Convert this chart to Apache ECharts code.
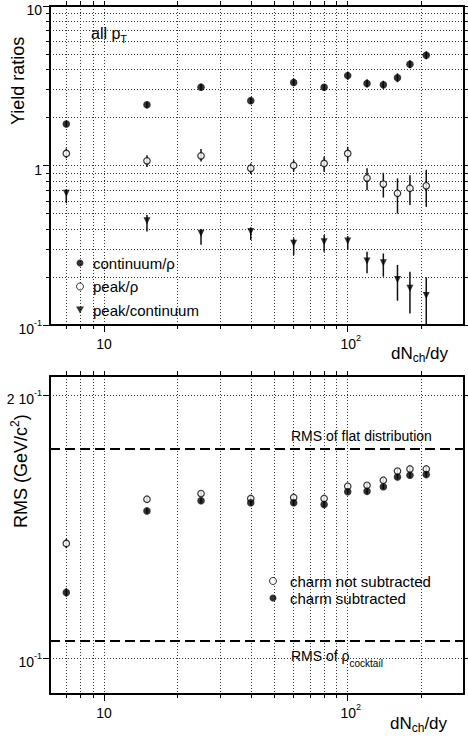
<!DOCTYPE html>
<html><head><meta charset="utf-8">
<script src="https://cdn.jsdelivr.net/npm/echarts@6/dist/echarts.min.js"></script>
<style>html,body{margin:0;padding:0;background:#fff}#c{width:468px;height:736px}</style>
</head><body><div id="c"></div>
<script>
// ---- data ----
const dNchdy = [7, 15, 25, 40, 60, 80, 100, 120, 140, 160, 180, 210];
const continuumRho     = [1.82, 2.40, 3.10, 2.55, 3.32, 3.09, 3.66, 3.27, 3.21, 3.55, 4.31, 4.91];
const continuumRhoLow  = [1.74, 2.30, 2.97, 2.44, 3.18, 2.96, 3.45, 3.08, 3.03, 3.33, 4.07, 4.63];
const continuumRhoHigh = [1.90, 2.51, 3.24, 2.66, 3.47, 3.23, 3.88, 3.47, 3.40, 3.78, 4.57, 5.20];
const peakRho      = [1.19, 1.07, 1.15, 0.96, 1.00, 1.03, 1.19, 0.835, 0.765, 0.67, 0.72, 0.746];
const peakRhoLow   = [1.11, 0.98, 1.06, 0.885, 0.914, 0.914, 1.06, 0.70, 0.63, 0.50, 0.565, 0.55];
const peakRhoHigh  = [1.28, 1.16, 1.27, 1.03, 1.08, 1.135, 1.31, 0.96, 0.90, 0.83, 0.87, 0.94];
const peakCont     = [0.67, 0.45, 0.376, 0.385, 0.325, 0.333, 0.336, 0.252, 0.246, 0.193, 0.170, 0.153];
const peakContLow  = [0.58, 0.385, 0.318, 0.341, 0.275, 0.288, 0.295, 0.211, 0.201, 0.142, 0.118, 0.10];
const peakContHigh = [0.71, 0.49, 0.40, 0.41, 0.35, 0.366, 0.361, 0.288, 0.281, 0.238, 0.216, 0.199];
const rmsNotSub     = [0.1353, 0.1520, 0.1543, 0.1523, 0.1527, 0.1523, 0.1573, 0.1577, 0.1598, 0.1637, 0.1646, 0.1646];
const rmsNotSubLow  = [0.1336, 0.1510, 0.1533, 0.1513, 0.1517, 0.1513, 0.1563, 0.1567, 0.1588, 0.1627, 0.1636, 0.1636];
const rmsNotSubHigh = [0.1370, 0.1530, 0.1553, 0.1533, 0.1537, 0.1533, 0.1583, 0.1587, 0.1608, 0.1647, 0.1656, 0.1656];
const rmsSub     = [0.1189, 0.1474, 0.1514, 0.1506, 0.1506, 0.1499, 0.1550, 0.1552, 0.1571, 0.1612, 0.1619, 0.1622];
const rmsSubLow  = [0.1176, 0.1464, 0.1504, 0.1496, 0.1496, 0.1489, 0.1540, 0.1542, 0.1561, 0.1602, 0.1609, 0.1612];
const rmsSubHigh = [0.1203, 0.1484, 0.1524, 0.1516, 0.1516, 0.1509, 0.1560, 0.1562, 0.1581, 0.1622, 0.1629, 0.1632];
const flatRMS = 0.1735;
const cocktailRMS = 0.1047;

// ---- ticks ----
const xMajorTicks = [10, 100];
const xMajorLabels = ['{b|10}', '{bx|10}{s|2}'];
const xMinorTicks = [7, 8, 9, 20, 30, 40, 50, 60, 70, 80, 90, 200];
const yTopMajorTicks = [0.1, 1, 10];
const yTopMajorLabels = ['{b|10}{s|-1}', '{b|1}', '{b|10}'];
const yTopMinorTicks = [0.2, 0.3, 0.4, 0.5, 0.6, 0.7, 0.8, 0.9, 2, 3, 4, 5, 6, 7, 8, 9];
const yBotTicks = [0.1, 0.2];
const yBotLabels = ['{b|10}{s|-1}', '{b|2 10}{s|-1}'];

const FONT = '"Liberation Sans", Arial, Helvetica, sans-serif';
const rich = {
  b:  {fontSize: 14, fontFamily: FONT, color: '#000', verticalAlign: 'top', lineHeight: 14, padding: [4, 0, 4, 0]},
  bx: {fontSize: 14, fontFamily: FONT, color: '#000', verticalAlign: 'top', lineHeight: 14, padding: [4, 0, 4, 6]},
  s:  {fontSize: 9, fontFamily: FONT, color: '#000', verticalAlign: 'top', lineHeight: 10}
};
function labelFrom(ticks, labels) {
  return function (v) {
    for (let i = 0; i < ticks.length; i++) if (Math.abs(v - ticks[i]) / ticks[i] < 1e-6) return labels[i];
    return '';
  };
}
const gridLine = {color: '#333', width: 1, type: [1, 2]};

function xAx(gridIndex, position, ticks, tickLen, labels, line, split) {
  return {
    type: 'log', logBase: 10, min: 6, max: 300, gridIndex, position,
    axisLine: {show: line, onZero: false, lineStyle: {color: '#000', width: 2}},
    axisTick: {show: true, inside: false, length: tickLen, customValues: ticks, lineStyle: {color: '#000', width: 1}},
    axisLabel: labels ? {show: true, customValues: ticks, margin: 8, formatter: labelFrom(ticks, labels), rich} : {show: false},
    splitLine: {show: split, lineStyle: gridLine},
    minorTick: {show: false}, minorSplitLine: {show: false}
  };
}
function yAx(gridIndex, position, min, max, ticks, tickLen, labels, line, split) {
  return {
    type: 'log', logBase: 10, min, max, gridIndex, position,
    axisLine: {show: line, onZero: false, lineStyle: {color: '#000', width: 2}},
    axisTick: {show: true, inside: false, length: tickLen, customValues: ticks, lineStyle: {color: '#000', width: 1}},
    axisLabel: labels ? {show: true, customValues: ticks, margin: 8, formatter: labelFrom(ticks, labels), rich} : {show: false},
    splitLine: {show: split, lineStyle: gridLine},
    minorTick: {show: false}, minorSplitLine: {show: false}
  };
}
const allX = xMajorTicks.concat(xMinorTicks);
const allYTop = yTopMajorTicks.concat(yTopMinorTicks);

function pts(vals) { return dNchdy.map((x, i) => [x, vals[i]]); }
function errs(lo, hi) { return dNchdy.map((x, i) => [x, lo[i], hi[i]]); }
function errSeries(name, xi, yi, lo, hi) {
  return {
    type: 'custom', name, xAxisIndex: xi, yAxisIndex: yi, z: 1, clip: true, silent: true,
    data: errs(lo, hi),
    encode: {x: 0, y: [1, 2]},
    renderItem: function (params, api) {
      const p1 = api.coord([api.value(0), api.value(1)]);
      const p2 = api.coord([api.value(0), api.value(2)]);
      return {type: 'line', shape: {x1: p1[0], y1: p1[1], x2: p2[0], y2: p2[1]}, style: {stroke: '#111', lineWidth: 1.5}};
    }
  };
}
const downTri = 'path://M0,0 L10,0 L5,9 Z';

const option = {
  animation: false,
  backgroundColor: '#fff',
  grid: [
    {left: 50, top: 6, width: 414, height: 319, outerBoundsMode: 'none'},
    {left: 50, top: 376, width: 414, height: 318, outerBoundsMode: 'none'}
  ],
  xAxis: [
    xAx(0, 'bottom', xMajorTicks, 7, xMajorLabels, true, true),
    xAx(0, 'bottom', xMinorTicks, 4, null, false, true),
    xAx(0, 'top', allX, 5, null, true, false),
    xAx(1, 'bottom', xMajorTicks, 7, xMajorLabels, true, true),
    xAx(1, 'bottom', xMinorTicks, 4, null, false, true),
    xAx(1, 'top', allX, 5, null, true, false)
  ],
  yAxis: [
    yAx(0, 'left', 0.1, 10, yTopMajorTicks, 7, yTopMajorLabels, true, true),
    yAx(0, 'left', 0.1, 10, yTopMinorTicks, 4, null, false, true),
    yAx(0, 'right', 0.1, 10, allYTop, 4, null, true, false),
    yAx(1, 'left', 0.0910, 0.2103, yBotTicks, 7, yBotLabels, true, true),
    yAx(1, 'right', 0.0910, 0.2103, yBotTicks, 5, null, true, false)
  ],
  legend: [
    {
      data: ['continuum/ρ', 'peak/ρ', 'peak/continuum'], orient: 'vertical',
      left: 71, top: 250.5, itemWidth: 16, itemHeight: 7, itemGap: 8.5, selectedMode: false,
      itemStyle: {borderWidth: 1},
      textStyle: {fontSize: 15, fontFamily: FONT, color: '#000'}
    },
    {
      data: ['charm not subtracted', 'charm subtracted'], orient: 'vertical',
      left: 264, top: 568.5, itemWidth: 20, itemHeight: 7, itemGap: 2, selectedMode: false,
      itemStyle: {borderWidth: 1},
      textStyle: {fontSize: 15, fontFamily: FONT, color: '#000', padding: [0, 0, 0, 2]}
    }
  ],
  series: [
    errSeries('e1', 0, 0, continuumRhoLow, continuumRhoHigh),
    errSeries('e2', 0, 0, peakRhoLow, peakRhoHigh),
    errSeries('e3', 0, 0, peakContLow, peakContHigh),
    errSeries('e4', 3, 3, rmsNotSubLow, rmsNotSubHigh),
    errSeries('e5', 3, 3, rmsSubLow, rmsSubHigh),
    {type: 'scatter', name: 'continuum/ρ', xAxisIndex: 0, yAxisIndex: 0, z: 3, symbol: 'circle', symbolSize: 7.5,
     itemStyle: {color: '#000'}, data: pts(continuumRho)},
    {type: 'scatter', name: 'peak/ρ', xAxisIndex: 0, yAxisIndex: 0, z: 3, symbol: 'circle', symbolSize: 6.5,
     itemStyle: {color: '#fff', borderColor: '#000', borderWidth: 1.2}, data: pts(peakRho)},
    {type: 'scatter', name: 'peak/continuum', xAxisIndex: 0, yAxisIndex: 0, z: 3, symbol: downTri, symbolSize: [7, 7],
     itemStyle: {color: '#000'}, data: pts(peakCont)},
    {type: 'scatter', name: 'charm not subtracted', xAxisIndex: 3, yAxisIndex: 3, z: 3, symbol: 'circle', symbolSize: 6.5,
     itemStyle: {color: '#fff', borderColor: '#000', borderWidth: 1.2}, data: pts(rmsNotSub),
     markLine: {silent: true, symbol: 'none', precision: 6, label: {show: false},
       lineStyle: {color: '#000', width: 1.8, type: [10, 5]},
       data: [{yAxis: flatRMS}, {yAxis: cocktailRMS}]}},
    {type: 'scatter', name: 'charm subtracted', xAxisIndex: 3, yAxisIndex: 3, z: 4, symbol: 'circle', symbolSize: 7.5,
     itemStyle: {color: '#000'}, data: pts(rmsSub)}
  ],
  graphic: [
    {type: 'text', x: 17.7, y: 125, rotation: Math.PI / 2,
     style: {text: 'Yield ratios', fontSize: 18, fontFamily: FONT, fill: '#000', align: 'left', verticalAlign: 'middle'}},
    {type: 'text', x: 17.7, y: 528, rotation: Math.PI / 2,
     style: {text: '{m|RMS (GeV/c}{s|2}{m|)}', fill: '#000', align: 'left', verticalAlign: 'middle',
       rich: {m: {fontSize: 18, fontFamily: FONT, fill: '#000', verticalAlign: 'top', lineHeight: 18, padding: [3, 0, 0, 0]},
              s: {fontSize: 12, fontFamily: FONT, fill: '#000', verticalAlign: 'top', lineHeight: 12}}}},
    {type: 'text', x: 91, y: 25,
     style: {text: '{m|all p}{t|T}', align: 'left', verticalAlign: 'top',
       rich: {m: {fontSize: 16, fontFamily: FONT, fill: '#000', verticalAlign: 'top', lineHeight: 16},
              t: {fontSize: 11, fontFamily: FONT, fill: '#000', verticalAlign: 'top', lineHeight: 11, padding: [8, 0, 0, 0]}}}},
    {type: 'text', x: 391, y: 344.5,
     style: {text: '{m|dN}{t|ch}{m|/dy}', align: 'left', verticalAlign: 'top',
       rich: {m: {fontSize: 17, fontFamily: FONT, fill: '#000', verticalAlign: 'top', lineHeight: 17},
              t: {fontSize: 12, fontFamily: FONT, fill: '#000', verticalAlign: 'top', lineHeight: 12, padding: [7.5, 0, 0, 0]}}}},
    {type: 'text', x: 390, y: 714.5,
     style: {text: '{m|dN}{t|ch}{m|/dy}', align: 'left', verticalAlign: 'top',
       rich: {m: {fontSize: 17, fontFamily: FONT, fill: '#000', verticalAlign: 'top', lineHeight: 17},
              t: {fontSize: 12, fontFamily: FONT, fill: '#000', verticalAlign: 'top', lineHeight: 12, padding: [7.5, 0, 0, 0]}}}},
    {type: 'text', x: 291, y: 435.5,
     style: {text: 'RMS of flat distribution', fontSize: 14, fontFamily: FONT, fill: '#000', align: 'left', verticalAlign: 'middle'}},
    {type: 'text', x: 291, y: 649,
     style: {text: '{m|RMS of ρ}{t|cocktail}', align: 'left', verticalAlign: 'top',
       rich: {m: {fontSize: 14, fontFamily: FONT, fill: '#000', verticalAlign: 'top', lineHeight: 14},
              t: {fontSize: 10, fontFamily: FONT, fill: '#000', verticalAlign: 'top', lineHeight: 10, padding: [9.8, 0, 0, 0]}}}}
  ]
};
const chart = echarts.init(document.getElementById('c'), null, {renderer: 'svg', width: 468, height: 736});
chart.setOption(option);
</script>
</body></html>
